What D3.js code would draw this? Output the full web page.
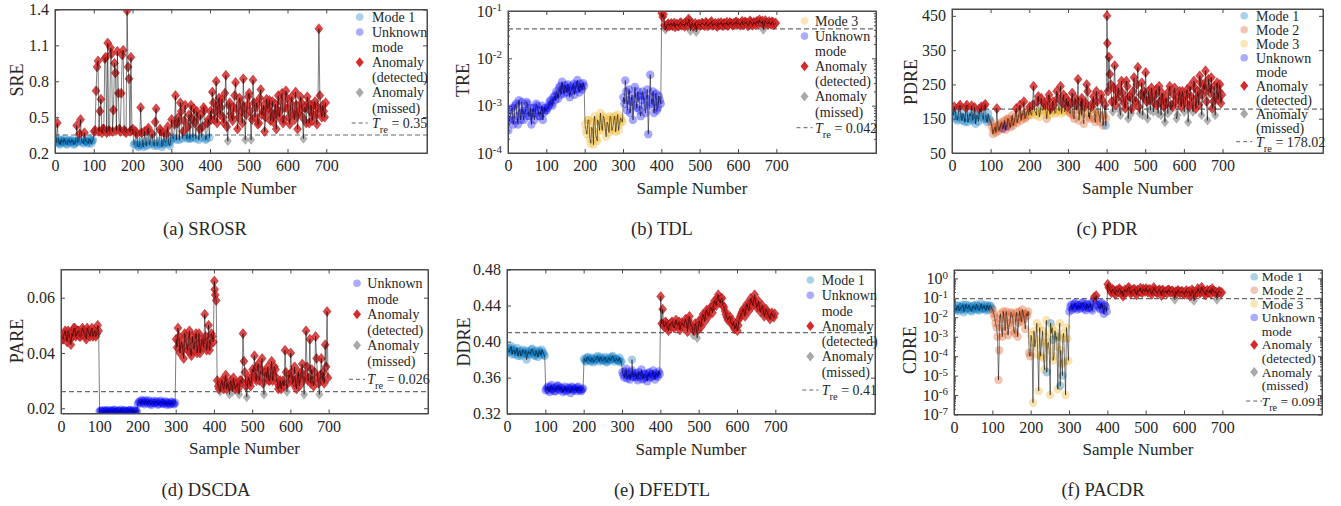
<!DOCTYPE html>
<html>
<head>
<meta charset="utf-8">
<script src="https://cdn.jsdelivr.net/npm/d3@7"></script>
<style>
  body { margin: 0; background: #fff; }
</style>
</head>
<body>
<div id="chart"></div>
<script>
// ---- data: "Values" are samples 1, 6, 11, ... 696; "Mid" are samples 3.5, 8.5, ... 698.5 ----
const xTicks = [0, 100, 200, 300, 400, 500, 600, 700];

// (a) SROSR
const sreModes = ["Mode 1", "Unknown", "Mode 1", "Mode 1"];
const sreThreshold = 0.35;
const sreTicks = [0.2, 0.5, 0.8, 1.1, 1.4];
const sreValues = [
  0.30, 0.45, 0.28, 0.31, 0.29, 0.30, 0.27, 0.31, 0.29, 0.30, 0.28, 0.43, 0.30, 0.48, 0.29, 0.37, 0.30, 0.28, 0.31, 0.30,
  0.38, 0.72, 0.97, 0.55, 0.37, 0.40, 1.00, 1.12, 0.38, 1.03, 0.56, 0.87, 1.05, 0.40, 0.70, 1.06, 0.38, 1.39, 0.82, 1.00,
  0.40, 0.28, 0.36, 0.25, 0.58, 0.27, 0.38, 0.26, 0.41, 0.29, 0.36, 0.26, 0.57, 0.28, 0.40, 0.25, 0.37, 0.29, 0.42, 0.26,
  0.48, 0.32, 0.68, 0.45, 0.31, 0.55, 0.38, 0.60, 0.32, 0.52, 0.60, 0.33, 0.45, 0.55, 0.31, 0.52, 0.42, 0.56, 0.32, 0.48,
  0.55, 0.71, 0.48, 0.80, 0.60, 0.52, 0.65, 0.45, 0.85, 0.30, 0.62, 0.50, 0.58, 0.79, 0.40, 0.66, 0.55, 0.82, 0.31, 0.60,
  0.70, 0.31, 0.81, 0.50, 0.62, 0.45, 0.73, 0.55, 0.38, 0.65, 0.58, 0.47, 0.63, 0.52, 0.40, 0.68, 0.55, 0.70, 0.48, 0.72,
  0.57, 0.44, 0.67, 0.52, 0.71, 0.40, 0.55, 0.62, 0.32, 0.58, 0.67, 0.45, 0.60, 0.52, 0.63, 0.44, 1.24, 0.56, 0.60, 0.50
];
const sreMid = [
  0.29, 0.31, 0.27, 0.30, 0.32, 0.28, 0.30, 0.29, 0.31, 0.27, 0.30, 0.29, 0.36, 0.31, 0.28, 0.30, 0.29, 0.32, 0.28, 0.31,
  0.39, 0.92, 0.38, 0.65, 0.40, 0.99, 0.37, 0.39, 1.08, 0.38, 0.95, 0.39, 0.70, 0.38, 1.02, 0.39, 0.37, 0.92, 0.38, 0.39,
  0.27, 0.38, 0.26, 0.29, 0.37, 0.25, 0.30, 0.39, 0.27, 0.35, 0.28, 0.46, 0.26, 0.30, 0.38, 0.27, 0.29, 0.36, 0.28, 0.30,
  0.33, 0.44, 0.31, 0.50, 0.62, 0.32, 0.47, 0.34, 0.42, 0.32, 0.48, 0.57, 0.32, 0.50, 0.40, 0.33, 0.58, 0.31, 0.45, 0.33,
  0.48, 0.62, 0.55, 0.45, 0.66, 0.58, 0.50, 0.70, 0.42, 0.60, 0.53, 0.47, 0.68, 0.57, 0.50, 0.62, 0.45, 0.58, 0.52, 0.67,
  0.55, 0.48, 0.62, 0.58, 0.44, 0.66, 0.52, 0.60, 0.50, 0.57, 0.64, 0.53, 0.46, 0.61, 0.56, 0.50, 0.63, 0.45, 0.58, 0.66,
  0.50, 0.62, 0.55, 0.48, 0.60, 0.53, 0.67, 0.50, 0.58, 0.45, 0.62, 0.55, 0.47, 0.60, 0.52, 0.58, 0.68, 0.50, 0.55, 0.62
];
const sreExtra = [[13, 0.29, "Mode 1"], [218, 0.27, "Mode 1"], [348, 0.32, "Mode 1"]];

// (b) TDL
const treModes = ["Unknown", "Unknown", "Mode 3", "Unknown"];
const treThreshold = 0.042;
const treTicks = [1e-4, 1e-3, 1e-2, 1e-1];
const treValues = [
  3e-4, 6e-4, 9e-4, 5e-4, 1.1e-3, 4e-4, 7e-4, 1.2e-3, 5e-4, 8e-4, 1.1e-3, 6e-4, 4e-4, 9e-4, 7e-4, 1.0e-3, 6e-4, 8e-4, 5e-4, 9e-4,
  8e-4, 1.0e-3, 1.3e-3, 1.0e-3, 1.6e-3, 2.0e-3, 1.4e-3, 2.6e-3, 3.2e-3, 1.8e-3, 2.3e-3, 2.8e-3, 1.5e-3, 2.1e-3, 2.9e-3, 2.2e-3, 3.5e-3, 1.9e-3, 2.5e-3, 3.0e-3,
  4e-4, 2.5e-4, 5e-4, 1.6e-4, 3e-4, 6e-4, 2e-4, 4.5e-4, 7e-4, 3e-4, 5.5e-4, 2.2e-4, 4e-4, 6e-4, 3e-4, 5e-4, 2.8e-4, 6.5e-4, 4e-4, 5e-4,
  1.5e-3, 3.4e-3, 8e-4, 2.2e-3, 1.2e-3, 5e-4, 2.5e-3, 9e-4, 1.6e-3, 6e-4, 2.0e-3, 1.0e-3, 1.4e-3, 2.5e-4, 4.5e-3, 1.1e-3, 7e-4, 1.8e-3, 9e-4, 1.3e-3,
  0.090, 0.085, 0.040, 0.052, 0.048, 0.055, 0.050, 0.046, 0.053, 0.049, 0.057, 0.051, 0.047, 0.054, 0.068, 0.038, 0.055, 0.050, 0.036, 0.052,
  0.049, 0.056, 0.051, 0.058, 0.048, 0.053, 0.060, 0.050, 0.055, 0.047, 0.052, 0.057, 0.049, 0.054, 0.058, 0.051, 0.056, 0.050, 0.053, 0.059,
  0.055, 0.050, 0.061, 0.053, 0.057, 0.048, 0.062, 0.054, 0.058, 0.051, 0.060, 0.065, 0.055, 0.040, 0.063, 0.056, 0.060, 0.052, 0.058, 0.054
];
const treMid = [
  5e-4, 8e-4, 4e-4, 1.0e-3, 6e-4, 1.3e-3, 5e-4, 8e-4, 7e-4, 1.2e-3, 6e-4, 9e-4, 7e-4, 5e-4, 1.1e-3, 8e-4, 6e-4, 1.0e-3, 7e-4, 8e-4,
  9e-4, 1.2e-3, 1.1e-3, 1.5e-3, 1.3e-3, 1.8e-3, 2.4e-3, 1.7e-3, 2.2e-3, 2.7e-3, 1.9e-3, 2.4e-3, 2.0e-3, 2.6e-3, 1.7e-3, 2.7e-3, 2.3e-3, 2.9e-3, 2.2e-3, 2.6e-3,
  3e-4, 5e-4, 2e-4, 3.5e-4, 4.5e-4, 2.5e-4, 5e-4, 3e-4, 4e-4, 6e-4, 3.5e-4, 4.5e-4, 2.7e-4, 5.5e-4, 3.5e-4, 6e-4, 4.5e-4, 3e-4, 5.5e-4, 4.5e-4,
  1.1e-3, 2.0e-3, 1.3e-3, 7e-4, 1.7e-3, 1.0e-3, 1.4e-3, 2.0e-3, 8e-4, 1.3e-3, 1.6e-3, 7e-4, 2.2e-3, 1.0e-3, 1.5e-3, 2.0e-3, 1.2e-3, 8e-4, 1.6e-3, 1.1e-3,
  0.075, 0.050, 0.047, 0.054, 0.051, 0.049, 0.056, 0.052, 0.048, 0.055, 0.050, 0.053, 0.058, 0.049, 0.062, 0.052, 0.047, 0.055, 0.050, 0.053,
  0.051, 0.054, 0.049, 0.055, 0.052, 0.057, 0.050, 0.053, 0.049, 0.056, 0.054, 0.050, 0.055, 0.052, 0.049, 0.057, 0.053, 0.055, 0.058, 0.052,
  0.053, 0.057, 0.051, 0.059, 0.055, 0.052, 0.058, 0.050, 0.056, 0.060, 0.054, 0.058, 0.062, 0.052, 0.057, 0.053, 0.055, 0.059, 0.051, 0.056
];
const treExtra = [[223, 1.5e-4, "Mode 3"], [233, 1.8e-4, "Mode 3"]];

// (c) PDR
const pdreModes = ["Mode 1", "Mode 2", "Mode 3", "Mode 2"];
const pdreThreshold = 178.02;
const pdreTicks = [50, 150, 250, 350, 450];
const pdreValues = [
  170, 185, 150, 160, 190, 145, 155, 182, 140, 165, 188, 150, 135, 160, 179, 185, 148, 192, 140, 150,
  140, 105, 125, 180, 115, 135, 120, 145, 130, 150, 125, 160, 140, 180, 150, 190, 165, 200, 155, 175,
  185, 160, 245, 170, 200, 155, 210, 175, 190, 160, 220, 180, 200, 165, 230, 175, 245, 195, 170, 210,
  200, 165, 225, 150, 190, 265, 175, 210, 135, 195, 230, 150, 185, 215, 140, 200, 160, 220, 130, 190,
  450, 330, 250, 170, 305, 210, 240, 160, 225, 195, 260, 150, 215, 180, 270, 200, 300, 165, 255, 230,
  285, 150, 205, 240, 170, 220, 190, 245, 160, 210, 140, 195, 230, 175, 185, 240, 150, 215, 200, 230,
  170, 220, 140, 245, 195, 260, 180, 230, 275, 160, 250, 290, 145, 240, 270, 200, 160, 255, 230, 195
];
const pdreMid = [
  160, 175, 145, 185, 155, 165, 140, 190, 150, 158, 145, 183, 160, 142, 170, 155, 187, 150, 165, 145,
  125, 118, 110, 130, 122, 140, 128, 118, 150, 135, 142, 130, 155, 138, 165, 145, 160, 150, 170, 160,
  165, 190, 172, 160, 215, 168, 175, 195, 170, 205, 162, 175, 190, 168, 210, 172, 165, 220, 175, 185,
  170, 195, 160, 210, 175, 145, 200, 165, 185, 250, 155, 175, 195, 150, 230, 165, 140, 205, 160, 150,
  230, 280, 200, 240, 190, 225, 175, 260, 205, 180, 245, 215, 165, 230, 200, 250, 185, 220, 160, 210,
  200, 230, 175, 215, 195, 235, 165, 200, 225, 185, 210, 165, 245, 190, 220, 200, 160, 230, 185, 210,
  200, 235, 185, 215, 170, 240, 210, 190, 255, 220, 235, 200, 265, 225, 180, 245, 215, 205, 250, 220
];
const pdreExtra = [[133, 122, "Unknown"], [143, 128, "Unknown"], [245, 150, "Mode 2"],
  [335, 160, "Mode 3"], [355, 168, "Mode 3"], [372, 165, "Mode 3"], [398, 130, "Mode 1"], [402, 370, null]];

// (d) DSCDA
const pareModes = ["Unknown", "Unknown", "Unknown", "Unknown"];
const pareThreshold = 0.026;
const pareTicks = [0.02, 0.04, 0.06];
const pareValues = [
  0.046, 0.045, 0.048, 0.044, 0.047, 0.043, 0.046, 0.049, 0.047, 0.048, 0.046, 0.049, 0.047, 0.045, 0.048, 0.046, 0.049, 0.047, 0.046, 0.050,
  0.0188, 0.0192, 0.0186, 0.0190, 0.0194, 0.0187, 0.0191, 0.0189, 0.0193, 0.0186, 0.0190, 0.0195, 0.0188, 0.0192, 0.0187, 0.0191, 0.0194, 0.0189, 0.0186, 0.0190,
  0.0215, 0.0225, 0.0230, 0.0220, 0.0228, 0.0218, 0.0224, 0.0212, 0.0226, 0.0219, 0.0222, 0.0215, 0.0227, 0.0218, 0.0223, 0.0213, 0.0220, 0.0216, 0.0222, 0.0214,
  0.045, 0.049, 0.040, 0.044, 0.038, 0.046, 0.041, 0.048, 0.039, 0.043, 0.045, 0.040, 0.047, 0.042, 0.044, 0.054, 0.041, 0.050, 0.043, 0.046,
  0.066, 0.059, 0.028, 0.026, 0.030, 0.027, 0.032, 0.029, 0.025, 0.028, 0.031, 0.027, 0.029, 0.025, 0.030, 0.047, 0.033, 0.024, 0.031, 0.028,
  0.034, 0.039, 0.030, 0.036, 0.032, 0.038, 0.025, 0.033, 0.035, 0.030, 0.037, 0.032, 0.034, 0.029, 0.028, 0.027, 0.030, 0.041, 0.026, 0.032,
  0.040, 0.029, 0.035, 0.027, 0.033, 0.031, 0.036, 0.025, 0.048, 0.030, 0.045, 0.034, 0.028, 0.046, 0.031, 0.025, 0.038, 0.033, 0.043, 0.055
];
const pareMid = [
  0.045, 0.047, 0.046, 0.048, 0.045, 0.047, 0.049, 0.046, 0.048, 0.046, 0.047, 0.048, 0.046, 0.049, 0.047, 0.048, 0.046, 0.048, 0.047, 0.048,
  0.0191, 0.0187, 0.0193, 0.0189, 0.0186, 0.0192, 0.0188, 0.0195, 0.0187, 0.0191, 0.0189, 0.0186, 0.0193, 0.0190, 0.0188, 0.0192, 0.0187, 0.0193, 0.0190, 0.0188,
  0.0222, 0.0218, 0.0226, 0.0214, 0.0223, 0.0229, 0.0216, 0.0221, 0.0218, 0.0226, 0.0213, 0.0224, 0.0219, 0.0215, 0.0225, 0.0219, 0.0213, 0.0224, 0.0217, 0.0220,
  0.042, 0.046, 0.043, 0.041, 0.047, 0.042, 0.044, 0.040, 0.046, 0.041, 0.047, 0.043, 0.040, 0.045, 0.042, 0.046, 0.044, 0.041, 0.047, 0.044,
  0.061, 0.030, 0.027, 0.029, 0.028, 0.030, 0.027, 0.028, 0.030, 0.026, 0.029, 0.028, 0.027, 0.030, 0.029, 0.037, 0.028, 0.030, 0.029, 0.031,
  0.033, 0.031, 0.035, 0.030, 0.034, 0.029, 0.033, 0.031, 0.030, 0.033, 0.030, 0.035, 0.031, 0.027, 0.030, 0.029, 0.028, 0.033, 0.029, 0.031,
  0.033, 0.030, 0.029, 0.031, 0.028, 0.033, 0.030, 0.032, 0.035, 0.031, 0.029, 0.030, 0.033, 0.038, 0.029, 0.032, 0.030, 0.029, 0.035, 0.031
];
const pareExtra = [[402, 0.063, null]];

// (e) DFEDTL
const ddreModes = ["Mode 1", "Unknown", "Mode 1", "Unknown"];
const ddreThreshold = 0.41;
const ddreTicks = [0.32, 0.36, 0.40, 0.44, 0.48];
const ddreValues = [
  0.392, 0.388, 0.395, 0.390, 0.386, 0.393, 0.388, 0.384, 0.391, 0.387, 0.380, 0.389, 0.386, 0.392, 0.385, 0.390, 0.383, 0.388, 0.391, 0.386,
  0.346, 0.350, 0.344, 0.352, 0.348, 0.345, 0.351, 0.347, 0.349, 0.344, 0.350, 0.346, 0.348, 0.343, 0.349, 0.347, 0.345, 0.350, 0.346, 0.347,
  0.381, 0.378, 0.383, 0.379, 0.382, 0.377, 0.380, 0.384, 0.378, 0.381, 0.379, 0.383, 0.377, 0.382, 0.380, 0.384, 0.378, 0.381, 0.379, 0.377,
  0.366, 0.360, 0.370, 0.362, 0.358, 0.368, 0.361, 0.365, 0.357, 0.363, 0.369, 0.359, 0.364, 0.356, 0.366, 0.361, 0.368, 0.358, 0.363, 0.367,
  0.450, 0.436, 0.416, 0.420, 0.412, 0.418, 0.422, 0.415, 0.424, 0.419, 0.413, 0.421, 0.417, 0.425, 0.411, 0.428, 0.418, 0.407, 0.420, 0.404,
  0.423, 0.416, 0.430, 0.422, 0.435, 0.428, 0.438, 0.432, 0.445, 0.440, 0.452, 0.443, 0.448, 0.438, 0.430, 0.424, 0.428, 0.420, 0.422, 0.416,
  0.412, 0.425, 0.431, 0.436, 0.428, 0.442, 0.434, 0.448, 0.440, 0.452, 0.438, 0.445, 0.433, 0.440, 0.428, 0.436, 0.430, 0.425, 0.432, 0.427
];
const ddreMid = [
  0.389, 0.393, 0.386, 0.391, 0.389, 0.384, 0.390, 0.386, 0.388, 0.390, 0.385, 0.387, 0.391, 0.388, 0.384, 0.387, 0.390, 0.385, 0.388, 0.384,
  0.348, 0.346, 0.350, 0.347, 0.345, 0.349, 0.351, 0.346, 0.348, 0.347, 0.345, 0.349, 0.347, 0.350, 0.346, 0.348, 0.349, 0.347, 0.345, 0.348,
  0.379, 0.382, 0.380, 0.378, 0.381, 0.379, 0.382, 0.380, 0.383, 0.379, 0.381, 0.378, 0.380, 0.379, 0.383, 0.381, 0.380, 0.379, 0.382, 0.378,
  0.363, 0.367, 0.359, 0.364, 0.366, 0.361, 0.363, 0.360, 0.366, 0.362, 0.358, 0.364, 0.361, 0.365, 0.360, 0.364, 0.362, 0.365, 0.361, 0.364,
  0.420, 0.418, 0.422, 0.416, 0.419, 0.421, 0.417, 0.420, 0.418, 0.422, 0.417, 0.419, 0.421, 0.420, 0.424, 0.418, 0.415, 0.412, 0.416, 0.413,
  0.419, 0.425, 0.427, 0.432, 0.430, 0.434, 0.436, 0.440, 0.442, 0.448, 0.446, 0.448, 0.440, 0.434, 0.427, 0.426, 0.423, 0.418, 0.414, 0.420,
  0.418, 0.428, 0.433, 0.432, 0.438, 0.437, 0.442, 0.444, 0.446, 0.444, 0.441, 0.438, 0.437, 0.435, 0.432, 0.433, 0.428, 0.430, 0.429, 0.431
];
const ddreExtra = [[326, 0.380, "Mode 1"]];

// (f) PACDR
const cdreModes = ["Mode 1", "Mode 2", "Mode 3", "Unknown"];
const cdreThreshold = 0.091;
const cdreTicks = [1e-7, 1e-6, 1e-5, 1e-4, 1e-3, 1e-2, 1e-1, 1];
const cdreValues = [
  3e-2, 2.2e-2, 4e-2, 2.6e-2, 3.5e-2, 1.8e-2, 4.5e-2, 2.8e-2, 3.2e-2, 2e-2, 4e-2, 2.5e-2, 3.8e-2, 2.2e-2, 5e-2, 3e-2, 2.7e-2, 4.2e-2, 2.4e-2, 3.6e-2,
  2.5e-2, 1e-2, 3e-3, 6e-6, 1.5e-2, 1e-3, 8e-3, 2e-2, 1.2e-3, 5e-3, 1.5e-2, 2e-3, 1e-2, 1e-3, 2e-2, 6e-3, 1.5e-2, 2.5e-3, 1.2e-2, 1.5e-4,
  1.2e-3, 4e-7, 3e-4, 5e-3, 1.6e-6, 1e-4, 2e-3, 2e-5, 7e-3, 5e-4, 1e-6, 3e-3, 1e-4, 8e-4, 2e-6, 5e-3, 4e-5, 1.5e-3, 1e-6, 8e-4,
  2e-2, 4.5e-2, 3e-2, 5.5e-2, 2.5e-2, 4e-2, 3.3e-2, 6e-2, 2.8e-2, 4.8e-2, 3e-2, 5e-2, 2.2e-2, 1.1e-1, 1.3e-1, 4e-2, 2.6e-2, 5.5e-2, 1.5e-2, 3.5e-2,
  0.50, 0.30, 0.18, 0.25, 0.15, 0.22, 0.30, 0.17, 0.12, 0.26, 0.20, 0.35, 0.16, 0.24, 0.28, 0.14, 0.21, 0.32, 0.18, 0.25,
  0.30, 0.19, 0.27, 0.15, 0.34, 0.22, 0.18, 0.26, 0.13, 0.24, 0.20, 0.17, 0.25, 0.19, 0.22, 0.08, 0.16, 0.23, 0.18, 0.21,
  0.15, 0.24, 0.19, 0.12, 0.26, 0.07, 0.20, 0.30, 0.17, 0.35, 0.22, 0.14, 0.25, 0.19, 0.16, 0.22, 0.18, 0.08, 0.21, 0.17
];
const cdreMid = [
  2.6e-2, 3.8e-2, 2.1e-2, 3.3e-2, 4.4e-2, 2.4e-2, 3.1e-2, 4.1e-2, 2.3e-2, 3.5e-2, 2.9e-2, 4.6e-2, 2.5e-2, 3.4e-2, 2.7e-2, 4.0e-2, 2.2e-2, 3.3e-2, 4.1e-2, 2.8e-2,
  1.5e-2, 5e-3, 1e-3, 8e-3, 3e-3, 2e-2, 2e-3, 1e-2, 4e-3, 1.8e-2, 8e-3, 1.5e-3, 1.8e-2, 5e-3, 1e-2, 2.5e-2, 8e-3, 1.5e-2, 2e-2, 1e-4,
  5e-4, 2e-3, 8e-4, 1.2e-4, 3e-3, 5e-4, 8e-5, 1e-3, 4e-4, 2e-4, 1.5e-3, 6e-5, 2e-3, 3e-4, 1e-3, 2e-4, 8e-4, 5e-5, 3e-3, 6e-5,
  3.5e-2, 2.4e-2, 5e-2, 3.2e-2, 4.2e-2, 2.7e-2, 5.2e-2, 3.6e-2, 2.3e-2, 4.4e-2, 3.5e-2, 2.8e-2, 6.5e-2, 8e-2, 4.5e-2, 3.2e-2, 4.8e-2, 2.4e-2, 4.2e-2, 2e-2,
  0.35, 0.22, 0.28, 0.19, 0.24, 0.20, 0.26, 0.22, 0.18, 0.21, 0.30, 0.24, 0.20, 0.27, 0.19, 0.25, 0.23, 0.20, 0.29, 0.21,
  0.24, 0.27, 0.20, 0.23, 0.26, 0.19, 0.24, 0.21, 0.25, 0.18, 0.22, 0.26, 0.20, 0.23, 0.17, 0.21, 0.24, 0.19, 0.22, 0.16,
  0.20, 0.18, 0.22, 0.16, 0.21, 0.14, 0.19, 0.23, 0.20, 0.24, 0.18, 0.21, 0.19, 0.25, 0.30, 0.22, 0.20, 0.18, 0.21, 0.19
];
const cdreExtra = [[118, 2e-4, "Mode 2"], [242, 1.5e-5, "Mode 1"], [252, 5e-3, "Mode 1"], [258, 7e-4, "Mode 1"],
  [268, 1e-3, "Mode 1"], [277, 3e-6, "Mode 1"], [283, 1e-5, "Mode 1"]];

// ---- setup ----
const width = 1341, height = 506;
const serif = "Liberation Serif";
const textColor = "#262626";
const axisColor = "#4a4a4a";
const red = "#d42a2a", gray = "#a9a9a9";
const modeColor = {"Mode 1": "#0072BD", "Mode 2": "#D95319", "Mode 3": "#EDB120", "Unknown": "#0000FF"};
const legendText = {
  "Mode 1": ["Mode 1"], "Mode 2": ["Mode 2"], "Mode 3": ["Mode 3"],
  "Unknown": ["Unknown", "mode"], det: ["Anomaly", "(detected)"], miss: ["Anomaly", "(missed)"]
};
const diamond = "M0,-5L4,0L0,5L-4,0Z";

const svg = d3.select("#chart").append("svg")
  .attr("width", width)
  .attr("height", height)
  .style("display", "block")
  .attr("font-family", serif);

const panels = [
  {values: sreValues, mid: sreMid, extra: sreExtra, modes: sreModes, thr: sreThreshold, thrLabel: "0.35", yLabel: "SRE",
   caption: "(a) SROSR", domain: [0.2, 1.4], ticks: sreTicks, fmt: ".1f", log: false,
   legend: ["Mode 1", "Unknown", "det", "miss"],
   box: {left: 55, right: 427, top: 9.5, bottom: 153}, ylab: [17, 80], cap: [205, 229],
   leg: {mx: 359.7, tx: 372, y0: 17, dy: 15.1, ty: 123, fs: 14}},
  {values: treValues, mid: treMid, extra: treExtra, modes: treModes, thr: treThreshold, thrLabel: "0.042", yLabel: "TRE",
   caption: "(b) TDL", domain: [1e-4, 1e-1], ticks: treTicks, log: true,
   legend: ["Mode 3", "Unknown", "det", "miss"],
   box: {left: 508, right: 876, top: 11, bottom: 153}, ylab: [463, 80], cap: [662, 229],
   leg: {mx: 804.5, tx: 815, y0: 21, dy: 15.1, ty: 127.7, fs: 14}},
  {values: pdreValues, mid: pdreMid, extra: pdreExtra, modes: pdreModes, thr: pdreThreshold, thrLabel: "178.02", yLabel: "PDRE",
   caption: "(c) PDR", domain: [50, 470], ticks: pdreTicks, fmt: "d", log: false,
   legend: ["Mode 1", "Mode 2", "Mode 3", "Unknown", "det", "miss"],
   box: {left: 952, right: 1323, top: 9, bottom: 153}, ylab: [911, 82], cap: [1107, 229],
   leg: {mx: 1244.2, tx: 1256, y0: 15.7, dy: 14, ty: 141.7, fs: 14}},
  {values: pareValues, mid: pareMid, extra: pareExtra, modes: pareModes, thr: pareThreshold, thrLabel: "0.026", yLabel: "PARE",
   caption: "(d) DSCDA", domain: [0.0181, 0.0702], ticks: pareTicks, fmt: ".2f", log: false,
   legend: ["Unknown", "det", "miss"],
   box: {left: 61, right: 428, top: 269.5, bottom: 413.5}, ylab: [17, 341], cap: [206, 490],
   leg: {mx: 357, tx: 367.3, y0: 283.3, dy: 15.5, ty: 379.3, fs: 14}},
  {values: ddreValues, mid: ddreMid, extra: ddreExtra, modes: ddreModes, thr: ddreThreshold, thrLabel: "0.41", yLabel: "DDRE",
   caption: "(e) DFEDTL", domain: [0.32, 0.48], ticks: ddreTicks, fmt: ".2f", log: false,
   legend: ["Mode 1", "Unknown", "det", "miss"],
   box: {left: 507, right: 875, top: 269.5, bottom: 413.7}, ylab: [464, 342], cap: [662, 490],
   leg: {mx: 810.3, tx: 821.7, y0: 280, dy: 15.3, ty: 390, fs: 14}},
  {values: cdreValues, mid: cdreMid, extra: cdreExtra, modes: cdreModes, thr: cdreThreshold, thrLabel: "0.091", yLabel: "CDRE",
   caption: "(f) PACDR", domain: [1e-7, 2.7], ticks: cdreTicks, log: true,
   legend: ["Mode 1", "Mode 2", "Mode 3", "Unknown", "det", "miss"],
   box: {left: 954, right: 1322, top: 270, bottom: 414.5}, ylab: [910, 350], cap: [1103, 490],
   leg: {mx: 1254.2, tx: 1261.7, y0: 276.7, dy: 13.6, ty: 401, fs: 13.5}}
];

// minor tick positions for log axes (2..9 of every decade)
function minorTicks(domain) {
  const out = [];
  for (let e = Math.floor(Math.log10(domain[0])); e <= Math.ceil(Math.log10(domain[1])); e++) {
    for (let m = 2; m <= 9; m++) {
      const v = m * Math.pow(10, e);
      if (v > domain[0] && v < domain[1]) out.push(v);
    }
  }
  return out;
}

function styleAxis(sel) {
  sel.attr("font-family", serif).attr("font-size", 16);
  sel.selectAll("path, line").attr("stroke", axisColor);
  sel.selectAll("text").attr("fill", textColor).attr("font-family", serif);
}

// plain text helper, so every label gets the serif face explicitly
function label(g, x, y, str, size) {
  return g.append("text")
    .attr("x", x).attr("y", y)
    .attr("dy", "0.35em")
    .attr("font-family", serif)
    .attr("font-size", size)
    .attr("fill", textColor)
    .text(str);
}

panels.forEach((p, k) => {
  const b = p.box;
  const x = d3.scaleLinear().domain([0, 960]).range([b.left, b.right]);
  const y = (p.log ? d3.scaleLog() : d3.scaleLinear()).domain(p.domain).range([b.bottom, b.top]);
  const g = svg.append("g");

  g.append("clipPath").attr("id", "clip" + k)
    .append("rect")
    .attr("x", b.left).attr("y", b.top)
    .attr("width", b.right - b.left).attr("height", b.bottom - b.top);

  // build points: sample number, value, mode of the 100-sample segment
  const pts = [];
  p.values.forEach((v, i) => pts.push({s: 1 + 5 * i, v: v, mode: i < 80 ? p.modes[Math.floor(i / 20)] : null}));
  p.mid.forEach((v, i) => pts.push({s: 3.5 + 5 * i, v: v, mode: i < 80 ? p.modes[Math.floor(i / 20)] : null}));
  p.extra.forEach(e => pts.push({s: e[0], v: e[1], mode: e[2]}));
  pts.sort((a, c) => a.s - c.s);
  pts.forEach(d => {
    d.kind = d.v > p.thr ? "det" : (d.s >= 400 || !d.mode ? "miss" : d.mode);
  });

  // axes (inward ticks, mirrored on top / right)
  g.append("g").attr("transform", `translate(0,${b.bottom})`)
    .call(d3.axisBottom(x).tickValues(xTicks).tickSizeInner(-4).tickSizeOuter(0).tickPadding(7))
    .call(styleAxis);
  g.append("g").attr("transform", `translate(0,${b.top})`)
    .call(d3.axisTop(x).tickValues(xTicks).tickSizeInner(-4).tickSizeOuter(0).tickFormat(""))
    .call(styleAxis);

  const yLeft = g.append("g").attr("transform", `translate(${b.left},0)`)
    .call(d3.axisLeft(y).tickValues(p.ticks).tickSizeInner(-4).tickSizeOuter(0).tickPadding(6)
      .tickFormat(p.log ? () => "" : d3.format(p.fmt)))
    .call(styleAxis);
  g.append("g").attr("transform", `translate(${b.right},0)`)
    .call(d3.axisRight(y).tickValues(p.ticks).tickSizeInner(-4).tickSizeOuter(0).tickFormat(""))
    .call(styleAxis);

  if (p.log) {
    // 10^n labels with superscript
    yLeft.selectAll(".tick text").each(function(d) {
      const t = d3.select(this);
      t.append("tspan").text("10");
      t.append("tspan").attr("dy", "-0.5em").attr("font-size", 11).text(Math.round(Math.log10(d)));
    });
    const mt = minorTicks(p.domain);
    g.append("g").attr("transform", `translate(${b.left},0)`)
      .call(d3.axisLeft(y).tickValues(mt).tickSizeInner(-2).tickSizeOuter(0).tickFormat(""))
      .call(styleAxis);
    g.append("g").attr("transform", `translate(${b.right},0)`)
      .call(d3.axisRight(y).tickValues(mt).tickSizeInner(-2).tickSizeOuter(0).tickFormat(""))
      .call(styleAxis);
  }

  // threshold line
  g.append("line")
    .attr("x1", b.left).attr("x2", b.right)
    .attr("y1", y(p.thr)).attr("y2", y(p.thr))
    .attr("stroke", "#6a6a6a").attr("stroke-width", 1.1).attr("stroke-dasharray", "5,3");

  // data marks
  const data = g.append("g").attr("clip-path", `url(#clip${k})`);
  data.selectAll("circle")
    .data(pts.filter(d => modeColor[d.kind]))
    .enter().append("circle")
    .attr("cx", d => x(d.s))
    .attr("cy", d => y(d.v))
    .attr("r", 4.2)
    .attr("fill", d => modeColor[d.kind])
    .attr("fill-opacity", 0.35);

  data.selectAll("path.miss")
    .data(pts.filter(d => d.kind === "miss"))
    .enter().append("path")
    .attr("class", "miss")
    .attr("d", diamond)
    .attr("transform", d => `translate(${x(d.s)},${y(d.v)})`)
    .attr("fill", gray)
    .attr("fill-opacity", 0.9);

  data.selectAll("path.det")
    .data(pts.filter(d => d.kind === "det"))
    .enter().append("path")
    .attr("class", "det")
    .attr("d", diamond)
    .attr("transform", d => `translate(${x(d.s)},${y(d.v)})`)
    .attr("fill", red)
    .attr("fill-opacity", 0.85)
    .attr("stroke", "#9a0000")
    .attr("stroke-width", 0.4);

  data.append("path")
    .datum(pts)
    .attr("fill", "none")
    .attr("stroke", "#000")
    .attr("stroke-opacity", 0.85)
    .attr("stroke-width", 0.6)
    .attr("d", d3.line().x(d => x(d.s)).y(d => y(d.v)));

  // box
  g.append("rect")
    .attr("x", b.left).attr("y", b.top)
    .attr("width", b.right - b.left).attr("height", b.bottom - b.top)
    .attr("fill", "none").attr("stroke", axisColor).attr("stroke-width", 1);

  // axis labels and caption
  label(g, (b.left + b.right) / 2, b.bottom + 35, "Sample Number", 17)
    .attr("text-anchor", "middle");

  g.append("text")
    .attr("transform", `translate(${p.ylab[0]},${p.ylab[1]}) rotate(-90)`)
    .attr("dy", "0.35em")
    .attr("text-anchor", "middle")
    .attr("font-family", serif)
    .attr("font-size", 18)
    .attr("fill", textColor)
    .text(p.yLabel);

  label(g, p.cap[0], p.cap[1], p.caption, 18.5)
    .attr("text-anchor", "middle");

  // legend
  const L = p.leg;
  let yy = L.y0;
  p.legend.forEach(key => {
    if (modeColor[key]) {
      g.append("circle")
        .attr("cx", L.mx).attr("cy", yy).attr("r", 3.8)
        .attr("fill", modeColor[key]).attr("fill-opacity", 0.33);
    } else {
      g.append("path")
        .attr("d", diamond)
        .attr("transform", `translate(${L.mx},${yy})`)
        .attr("fill", key === "det" ? red : gray);
    }
    legendText[key].forEach(line => {
      label(g, L.tx, yy, line, L.fs);
      yy += L.dy;
    });
  });

  g.append("line")
    .attr("x1", L.mx - 8).attr("x2", L.mx + 8)
    .attr("y1", L.ty).attr("y2", L.ty)
    .attr("stroke", "#606060").attr("stroke-width", 1).attr("stroke-dasharray", "4,3");
  const t = label(g, L.tx, L.ty, null, L.fs);
  t.append("tspan").attr("font-style", "italic").text("T");
  t.append("tspan").attr("dy", 5).attr("font-size", L.fs * 0.75).text("re");
  t.append("tspan").attr("dy", -5).text(" = " + p.thrLabel);
});
</script>
</body>
</html>
